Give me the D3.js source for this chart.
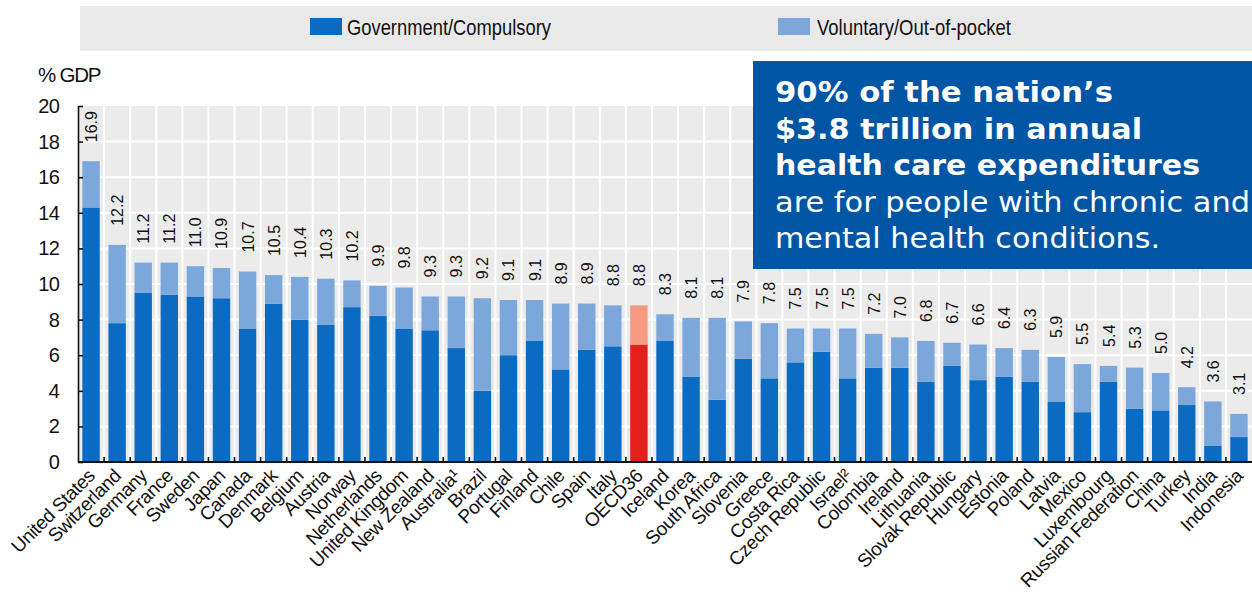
<!DOCTYPE html>
<html>
<head>
<meta charset="utf-8">
<script src="https://cdn.jsdelivr.net/npm/d3@7/dist/d3.min.js"></script>
<style>
  html, body { margin: 0; padding: 0; background: #fff; }
  svg { display: block; }
</style>
</head>
<body>
<svg id="chart" width="1252" height="594"></svg>
<script>
// ---------- DATA ----------
const countries = ["United States","Switzerland","Germany","France","Sweden","Japan","Canada","Denmark","Belgium","Austria","Norway","Netherlands","United Kingdom","New Zealand","Australia\u00B9","Brazil","Portugal","Finland","Chile","Spain","Italy","OECD36","Iceland","Korea","South Africa","Slovenia","Greece","Costa Rica","Czech Republic","Israel\u00B2","Colombia","Ireland","Lithuania","Slovak Republic","Hungary","Estonia","Poland","Latvia","Mexico","Luxembourg","Russian Federation","China","Turkey","India","Indonesia"];
const totalLabels = [16.9,12.2,11.2,11.2,11.0,10.9,10.7,10.5,10.4,10.3,10.2,9.9,9.8,9.3,9.3,9.2,9.1,9.1,8.9,8.9,8.8,8.8,8.3,8.1,8.1,7.9,7.8,7.5,7.5,7.5,7.2,7.0,6.8,6.7,6.6,6.4,6.3,5.9,5.5,5.4,5.3,5.0,4.2,3.6,3.1];
const government = [14.3,7.8,9.5,9.4,9.3,9.2,7.5,8.9,8.0,7.7,8.7,8.2,7.5,7.4,6.4,4.0,6.0,6.8,5.2,6.3,6.5,6.6,6.8,4.8,3.5,5.8,4.7,5.6,6.2,4.7,5.3,5.3,4.5,5.4,4.6,4.8,4.5,3.4,2.8,4.5,3.0,2.9,3.2,0.9,1.4];
const voluntary = [2.6,4.4,1.7,1.8,1.7,1.7,3.2,1.6,2.4,2.6,1.5,1.7,2.3,1.9,2.9,5.2,3.1,2.3,3.7,2.6,2.3,2.2,1.5,3.3,4.6,2.1,3.1,1.9,1.3,2.8,1.9,1.7,2.3,1.3,2.0,1.6,1.8,2.5,2.7,0.9,2.3,2.1,1.0,2.5,1.3];
const yTicks = [0,2,4,6,8,10,12,14,16,18,20];
const seriesNames = ["Government/Compulsory","Voluntary/Out-of-pocket"];
const highlight = "OECD36";
const boxLines = [
  {text: "90% of the nation\u2019s", bold: true},
  {text: "$3.8 trillion in annual", bold: true},
  {text: "health care expenditures", bold: true},
  {text: "are for people with chronic and", bold: false},
  {text: "mental health conditions.", bold: false}
];

// ---------- STYLE ----------
const colors = { gov: "#0b6bc2", vol: "#7ba7db", govHi: "#e2201c", volHi: "#f59a80" };
const font = "'Liberation Sans', Arial, sans-serif";

const svg = d3.select("#chart");
const pLeft = 78, pRight = 1252, pTop = 106, pBottom = 462;

const x = d3.scaleBand().domain(countries).range([pLeft, pRight]).paddingInner(0.333).paddingOuter(0.1665);
const y = d3.scaleLinear().domain([0, 20]).range([pBottom, pTop]);
const step = x.step();
const boundary = d => x(d) - step * x.paddingInner() / 2;

// legend band
svg.append("rect").attr("x", 80).attr("y", 6).attr("width", 1172).attr("height", 45).attr("fill", "#e9e9e9");
const legendItems = [
  {name: seriesNames[0], color: colors.gov, sx: 310, tx: 347, tl: 204},
  {name: seriesNames[1], color: colors.vol, sx: 778, tx: 817, tl: 194}
];
legendItems.forEach(d => {
  svg.append("rect").attr("x", d.sx).attr("y", 18).attr("width", 32).attr("height", 17).attr("fill", d.color);
  svg.append("text").attr("x", d.tx).attr("y", 35)
    .attr("font-family", font).attr("font-size", 22).attr("fill", "#111")
    .attr("textLength", d.tl).attr("lengthAdjust", "spacingAndGlyphs")
    .text(d.name);
});

// plot background
svg.append("rect").attr("x", pLeft).attr("y", pTop).attr("width", pRight - pLeft).attr("height", pBottom - pTop).attr("fill", "#ebebeb");
// horizontal gridlines
svg.append("g").selectAll("line").data(yTicks.filter(t => t > 0 && t < 20)).join("line")
  .attr("x1", pLeft).attr("x2", pRight).attr("y1", d => y(d)).attr("y2", d => y(d))
  .attr("stroke", "#fff").attr("stroke-width", 2);
// vertical gridlines at category boundaries
svg.append("g").selectAll("line").data(countries.slice(1)).join("line")
  .attr("x1", boundary).attr("x2", boundary)
  .attr("y1", pTop).attr("y2", pBottom)
  .attr("stroke", "#fff").attr("stroke-width", 2);

// stacked bars
const rows = countries.map((c, i) => ({country: c, gov: government[i], vol: voluntary[i], label: totalLabels[i]}));
const stack = d3.stack().keys(["gov", "vol"])(rows);
stack.forEach(layer => {
  svg.append("g").selectAll("rect").data(layer).join("rect")
    .attr("x", d => x(d.data.country))
    .attr("width", x.bandwidth())
    .attr("y", d => y(d[1]))
    .attr("height", d => y(d[0]) - y(d[1]))
    .attr("fill", d => d.data.country === highlight
      ? (layer.key === "gov" ? colors.govHi : colors.volHi)
      : (layer.key === "gov" ? colors.gov : colors.vol));
});

// value labels (rotated)
svg.append("g").selectAll("text").data(rows).join("text")
  .attr("transform", d => `translate(${x(d.country) + x.bandwidth() / 2 + 6},${y(d.gov + d.vol) - 19}) rotate(-90)`)
  .attr("font-family", font).attr("font-size", 16).attr("fill", "#111")
  .attr("text-anchor", "start")
  .text(d => d.label.toFixed(1));

// y axis
const yAxis = d3.axisLeft(y).tickValues(yTicks).tickSizeInner(-5).tickSizeOuter(0).tickPadding(19);
const gy = svg.append("g").attr("transform", `translate(${pLeft},0)`).call(yAxis);
gy.select(".domain").attr("stroke", "#111").attr("stroke-width", 1.6);
gy.selectAll(".tick line").attr("stroke", "#111").attr("stroke-width", 1.6);
gy.selectAll(".tick text").attr("font-family", font).attr("font-size", 20).attr("fill", "#111").attr("letter-spacing", -0.8);

// y axis title
svg.append("text").attr("x", 38).attr("y", 82)
  .attr("font-family", font).attr("font-size", 20.5).attr("fill", "#111").attr("letter-spacing", -1.2)
  .text("% GDP");

// x axis line and ticks
svg.append("line").attr("x1", pLeft).attr("x2", pRight).attr("y1", pBottom).attr("y2", pBottom)
  .attr("stroke", "#111").attr("stroke-width", 1.8);
svg.append("g").selectAll("line").data(countries.slice(1)).join("line")
  .attr("x1", boundary).attr("x2", boundary)
  .attr("y1", pBottom).attr("y2", pBottom - 5)
  .attr("stroke", "#111").attr("stroke-width", 1.6);

// x labels (rotated -45)
svg.append("g").selectAll("text").data(countries).join("text")
  .attr("transform", d => `translate(${x(d) + x.bandwidth() / 2 + 5},${pBottom + 15}) rotate(-45)`)
  .attr("font-family", font).attr("font-size", 19).attr("fill", "#111")
  .attr("text-anchor", "end").attr("letter-spacing", -0.4)
  .text(d => d);

// callout box
svg.append("rect").attr("x", 753).attr("y", 61).attr("width", 499).attr("height", 208).attr("fill", "#0055a5");
const boxWidths = [338, 367, 425, 475, 385];
svg.append("g").selectAll("text").data(boxLines).join("text")
  .attr("x", 775).attr("y", (d, i) => 102 + i * 36.6)
  .attr("font-family", "'DejaVu Sans', Verdana, sans-serif")
  .attr("font-size", 27.5)
  .attr("font-weight", d => d.bold ? "bold" : "normal")
  .attr("fill", "#fff")
  .attr("textLength", (d, i) => boxWidths[i]).attr("lengthAdjust", "spacingAndGlyphs")
  .text(d => d.text);
</script>
</body>
</html>
